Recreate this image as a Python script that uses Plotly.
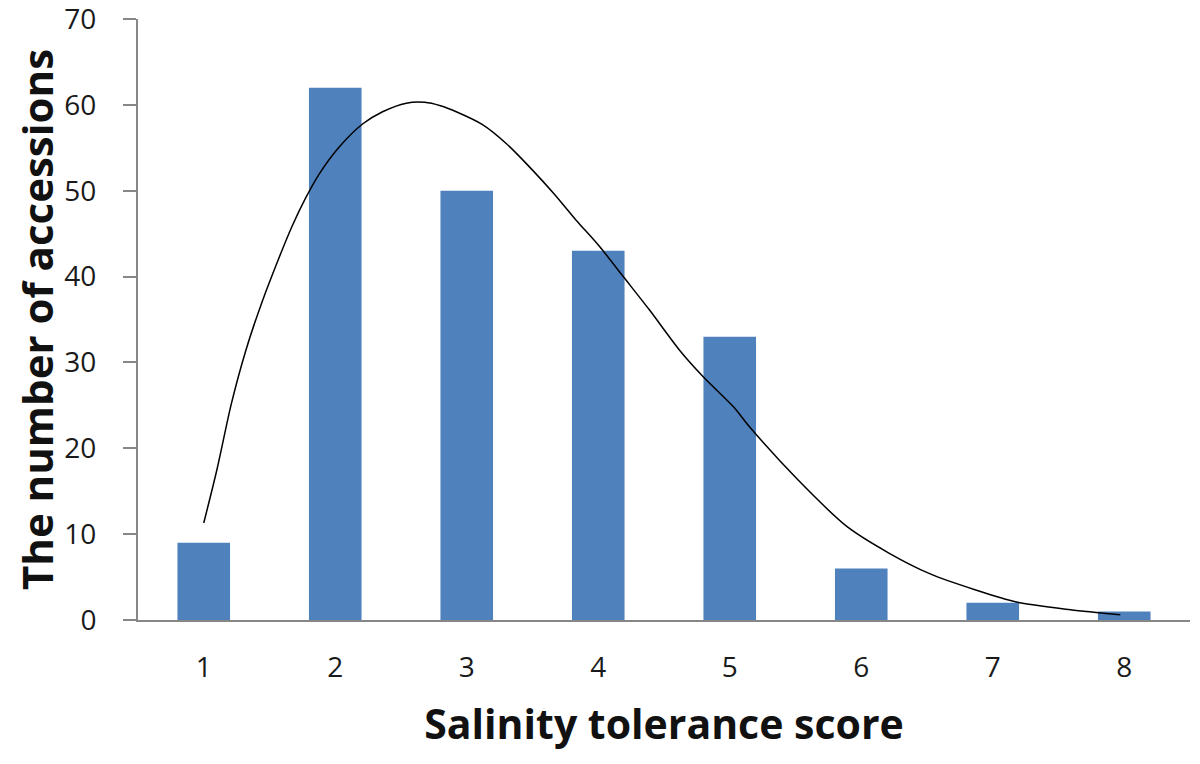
import plotly.graph_objects as go

scores = [1, 2, 3, 4, 5, 6, 7, 8]
counts = [9, 62, 50, 43, 33, 6, 2, 1]

# fitted curve
curve_x = [1.0, 1.10, 1.21, 1.32, 1.44, 1.565, 1.67, 1.78, 1.88, 2.03, 2.21, 2.36, 2.54,
           2.68, 2.80, 2.92, 3.12, 3.30, 3.50, 3.66, 3.83, 4.01, 4.19, 4.39, 4.62,
           4.80, 5.03, 5.15, 5.52, 5.89, 6.21, 6.52, 6.87, 7.18, 7.59, 7.97]
curve_y = [11.3, 17.5, 25.2, 31.4, 36.9, 41.9, 45.8, 49.3, 52.0, 55.1, 57.8, 59.2, 60.2,
           60.3, 59.9, 59.2, 57.7, 55.5, 52.4, 49.7, 46.6, 43.5, 40.0, 36.1, 31.4,
           28.3, 24.8, 22.5, 16.3, 10.9, 7.8, 5.4, 3.5, 2.1, 1.2, 0.6]

y_ticks = [0, 10, 20, 30, 40, 50, 60, 70]

FONT = "Open Sans"
AXIS_COLOR = "#878787"
TICK_COLOR = "#1a1a1a"

fig = go.Figure()
fig.add_trace(go.Bar(x=scores, y=counts, width=0.4,
                     marker=dict(color="#4F81BD", line=dict(width=0)),
                     showlegend=False))
fig.add_trace(go.Scatter(x=curve_x, y=curve_y, mode="lines",
                         line=dict(color="black", width=1.5, shape="spline",
                                   smoothing=0.8),
                         showlegend=False))

fig.update_layout(
    width=1200, height=764,
    paper_bgcolor="white", plot_bgcolor="white",
    margin=dict(l=130, r=18, t=11, b=152),
    font=dict(family=FONT, color=TICK_COLOR),
    xaxis=dict(range=[0.5, 8.5], tickmode="array", tickvals=scores,
               ticktext=[str(s) for s in scores], automargin=False,
               showgrid=False, zeroline=False, showline=True,
               linecolor=AXIS_COLOR, linewidth=2, ticks="",
               ticklabelstandoff=21, ticklabeloverflow="allow",
               tickfont=dict(size=28, family=FONT, color=TICK_COLOR),
               title=dict(text="<b>Salinity tolerance score</b>",
                          font=dict(size=41, family=FONT, color="#111111"),
                          standoff=27)),
    yaxis=dict(range=[0, 70], tickmode="array", tickvals=y_ticks,
               automargin=False,
               showgrid=False, zeroline=False, showline=True,
               linecolor=AXIS_COLOR, linewidth=2, ticks="outside",
               ticklen=13, tickcolor=AXIS_COLOR, tickwidth=2,
               ticklabelstandoff=21, ticklabeloverflow="allow",
               tickfont=dict(size=28, family=FONT, color=TICK_COLOR),
               title=dict(text="<b>The number of accessions</b>",
                          font=dict(size=42, family=FONT, color="#111111"),
                          standoff=8)),
)

fig.write_html("out.html")
